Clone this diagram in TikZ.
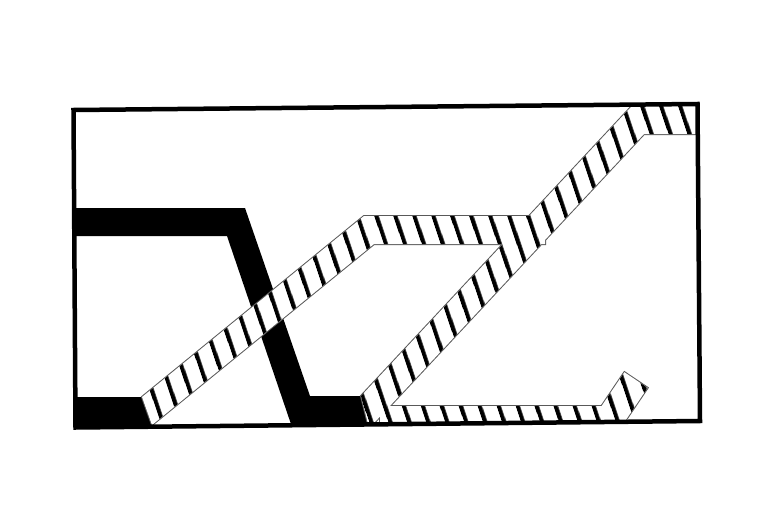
\documentclass[tikz,border=0pt]{standalone}
\usepackage{tikz}
\usetikzlibrary{patterns.meta}

\begin{document}
\begin{tikzpicture}[x=1pt, y=-1pt,
    rim/.style={draw=black!65, line width=2pt, line join=miter},
    blank/.style={fill=white},
    hatch/.style={pattern={Lines[angle=-71, distance=18.4pt, line width=4.4pt]}, pattern color=black},
    frame/.style={draw=black, line width=4.5pt, line join=miter}]
    \useasboundingbox (0,0) rectangle (776,511);

    % Frame corners
    \coordinate (tl) at (73.5,110);
    \coordinate (tr) at (697.5,104);
    \coordinate (br) at (700,421);
    \coordinate (bl) at (75.5,427.5);

    % Band outlines
    \def\risingband{(142,397) -- (364,216) -- (545,216) -- (545,244) -- (374,244) -- (152,425) -- cycle}
    \def\longband{(361,396) -- (631.9,106) -- (710,106) -- (710,134) -- (644,134) -- (373.1,424) -- (368,424) -- cycle}
    \def\bottomband{(380,406) -- (601.6,406) -- (624.4,372.2) -- (647.6,387.8) -- (616.4,434) -- (380,434) -- cycle}

    \begin{scope}
        \clip (tl) -- (tr) -- (br) -- (bl) -- cycle;

        % Solid parts
        \fill[black] (60,208) -- (245,208) -- (310,396) -- (361,396) -- (369.5,430) -- (293,430) -- (227,236) -- (60,236) -- cycle;
        \fill[black] (60,397) -- (142,397) -- (153.8,430) -- (60,430) -- cycle;

        % Hatched parts
        \path[rim] \risingband \longband \bottomband;
        \fill[blank] \risingband \longband \bottomband;
        \fill[hatch] \risingband \longband \bottomband;
    \end{scope}

    % Frame
    \draw[frame] (tl) -- (tr) -- (br) -- (bl) -- cycle;
\end{tikzpicture}
\end{document}
